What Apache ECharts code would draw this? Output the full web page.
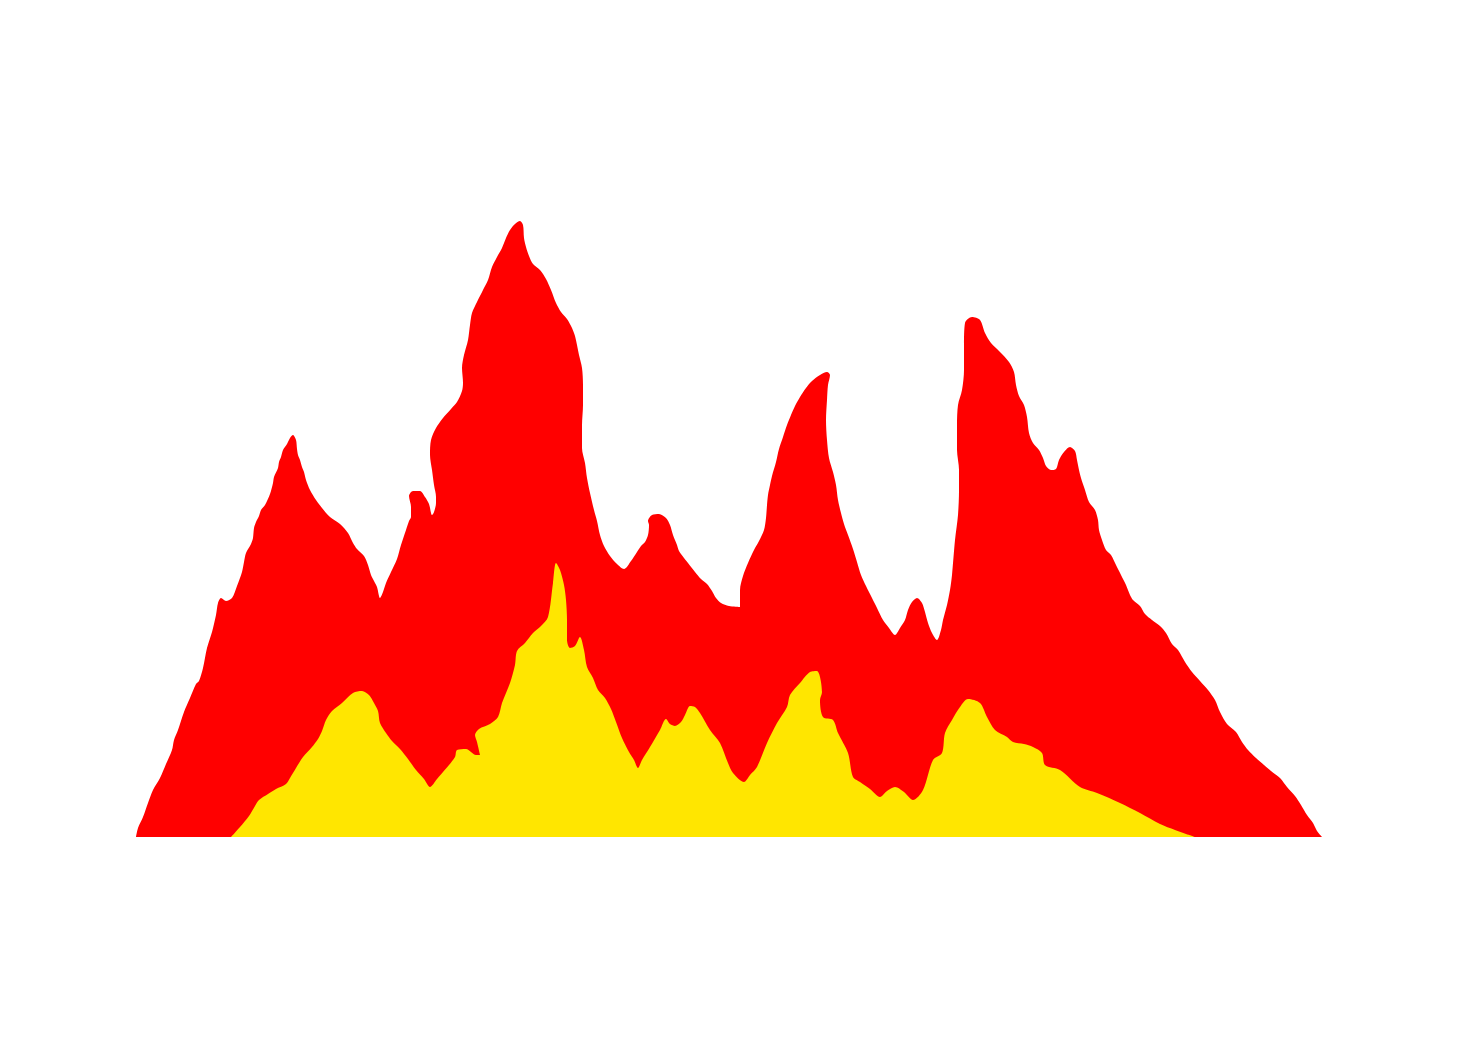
<!DOCTYPE html>
<html><head><meta charset="utf-8">
<script src="https://cdn.jsdelivr.net/npm/echarts@6/dist/echarts.min.js"></script>
<style>html,body{margin:0;padding:0;background:#fff}#c{width:1480px;height:1057px}</style>
</head><body><div id="c"></div>
<script>
// Red mountain outline: [x position, height]
const redPoints = [[0,0],[2,9],[7,20],[12,34],[17,47],[24,59],[30,73],[36,87],[38,97],[42,107],[48,125],[54,139],[60,153],[63,156],[67,169],[71,189],[76,205],[80,222],[82,234],[85,239],[90,236],[96,239],[101,251],[106,265],[108,275],[110,284],[115,293],[117,299],[118,309],[120,315],[123,321],[125,327],[129,332],[134,343],[137,354],[138,360],[142,369],[143,375],[145,380],[147,387],[151,393],[154,399],[157,402],[160,397],[161,388],[162,382],[164,377],[166,370],[168,365],[170,357],[174,347],[180,337],[186,329],[194,320],[204,313],[212,304],[217,294],[221,288],[228,281],[232,272],[235,262],[238,256],[241,250],[244,239],[247,245],[250,254],[255,265],[261,278],[265,292],[270,307],[273,316],[275,320],[275,330],[273,341],[277,346],[284,346],[289,340],[293,333],[296,322],[298,325],[300,334],[300,340],[298,352],[296,367],[294,382],[295,397],[300,409],[307,419],[315,428],[321,435],[326,446],[327,454],[326,469],[328,482],[332,497],[334,512],[336,524],[341,535],[347,547],[352,557],[356,570],[361,580],[366,589],[370,599],[374,607],[379,613],[384,616],[387,612],[388,599],[390,590],[393,581],[397,573],[404,567],[410,558],[415,547],[420,534],[425,525],[431,518],[436,509],[439,501],[441,492],[443,482],[446,469],[447,452],[447,432],[446,412],[446,389],[449,374],[451,359],[454,344],[458,327],[461,316],[464,302],[468,291],[474,281],[481,273],[488,268],[495,276],[501,285],[505,291],[509,295],[512,302],[513,312],[512,316],[516,322],[523,323],[530,319],[534,312],[537,302],[541,292],[543,286],[548,279],[552,274],[559,265],[565,258],[571,253],[576,246],[580,239],[585,234],[593,231],[604,230],[604,247],[607,261],[612,274],[618,287],[623,296],[628,307],[630,319],[631,332],[632,342],[634,352],[636,361],[640,375],[643,388],[647,400],[651,412],[655,422],[659,431],[664,440],[670,449],[676,456],[684,462],[691,465],[694,462],[692,452],[691,437],[690,417],[691,397],[693,379],[697,365],[700,352],[702,337],[705,324],[708,313],[712,302],[717,288],[721,275],[725,262],[730,251],[736,239],[741,229],[747,217],[753,209],[759,202],[764,209],[769,217],[772,227],[776,235],[781,239],[786,234],[789,225],[792,214],[796,204],[801,197],[805,207],[807,217],[811,232],[814,247],[816,262],[819,297],[822,322],[823,347],[823,367],[821,387],[821,412],[822,432],[826,447],[828,467],[828,492],[829,514],[836,520],[844,517],[849,504],[855,494],[863,486],[873,475],[878,465],[880,452],[883,441],[888,432],[891,420],[893,404],[897,394],[903,387],[907,379],[910,371],[915,367],[920,368],[923,377],[928,385],[934,390],[939,386],[941,377],[943,367],[945,359],[949,347],[953,335],[959,327],[962,317],[963,307],[966,297],[970,287],[975,282],[980,272],[985,262],[990,252],[994,242],[997,237],[1004,231],[1009,223],[1016,217],[1024,211],[1030,204],[1036,193],[1042,187],[1049,175],[1056,165],[1064,156],[1072,147],[1079,137],[1084,125],[1091,113],[1100,105],[1106,95],[1112,87],[1120,79],[1128,72],[1135,66],[1144,59],[1151,50],[1159,41],[1165,32],[1171,22],[1177,14],[1181,6],[1186,0]];
// Yellow foothills outline: [x position, height]
const yellowPoints = [[95,0],[104,10],[113,21],[119,31],[123,37],[132,43],[140,48],[150,53],[154,59],[160,69],[167,80],[176,90],[182,98],[186,106],[190,117],[196,126],[206,134],[217,144],[226,146],[233,142],[238,134],[242,126],[244,114],[250,104],[256,96],[264,88],[272,78],[280,67],[288,58],[294,50],[301,58],[307,65],[313,72],[319,80],[321,87],[330,88],[340,82],[344,82],[341,95],[339,102],[343,108],[354,113],[362,120],[366,134],[374,154],[379,172],[381,186],[389,194],[397,204],[405,211],[412,220],[417,254],[420,274],[424,267],[428,252],[430,237],[431,217],[431,197],[434,189],[439,191],[444,200],[448,187],[451,170],[457,159],[462,147],[469,139],[475,128],[480,115],[486,99],[493,85],[498,77],[502,69],[506,77],[514,90],[524,107],[530,118],[534,113],[539,111],[545,115],[549,122],[554,131],[559,130],[564,124],[574,107],[584,94],[592,74],[597,64],[608,55],[614,62],[621,70],[631,94],[641,114],[651,130],[654,142],[664,154],[674,165],[681,166],[686,145],[684,137],[687,120],[697,117],[702,104],[712,84],[717,60],[724,55],[734,48],[744,40],[751,46],[759,50],[768,45],[777,37],[787,47],[797,77],[806,84],[809,104],[816,117],[824,130],[832,138],[844,134],[851,120],[859,107],[871,100],[877,95],[888,93],[897,90],[906,84],[909,72],[924,67],[944,50],[961,44],[984,34],[1004,24],[1024,13],[1039,7],[1050,3],[1059,0]];
const xRange = [0, 1186];
const yRange = [0, 637];

const chart = echarts.init(document.getElementById('c'), null, {renderer: 'canvas'});
chart.setOption({
  animation: false,
  backgroundColor: '#ffffff',
  grid: {left: 136, right: 158, top: 200, bottom: 220},
  xAxis: {type: 'value', min: xRange[0], max: xRange[1], show: false},
  yAxis: {type: 'value', min: yRange[0], max: yRange[1], show: false},
  series: [
    {type: 'line', data: redPoints, smooth: 0.3, showSymbol: false,
     lineStyle: {width: 0}, areaStyle: {color: '#ff0000', opacity: 1}, itemStyle: {color: '#ff0000'}},
    {type: 'line', data: yellowPoints, smooth: 0.3, showSymbol: false,
     lineStyle: {width: 0}, areaStyle: {color: '#ffe600', opacity: 1}, itemStyle: {color: '#ffe600'}}
  ]
});
</script></body></html>
